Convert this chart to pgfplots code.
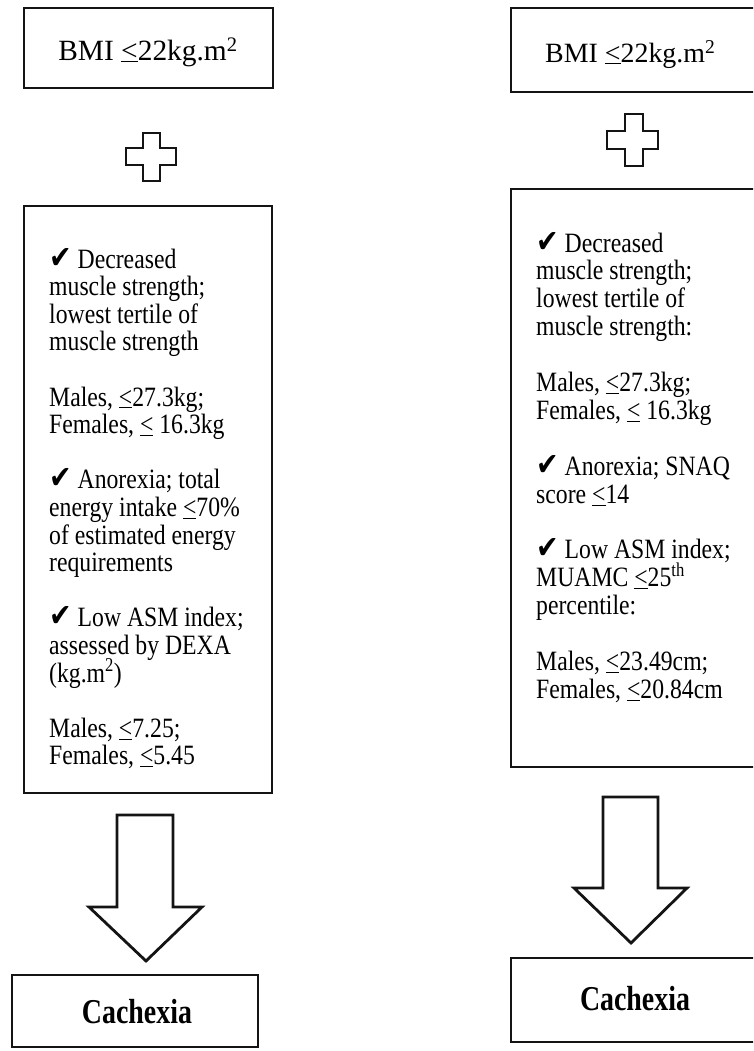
\documentclass[border=0pt]{standalone}
\usepackage{fontspec}
\setmainfont{Liberation Serif}
\newfontfamily\dejavu{DejaVu Sans}
\usepackage{graphicx}
\usepackage{pgfplots}
\pgfplotsset{compat=1.18}
\newcommand{\ulq}{\underline{<}}
\newcommand{\ck}{{\dejavu\fontsize{27}{26}\selectfont ✔}}
\newcommand{\body}{\fontsize{23.8}{27.6}\selectfont}
\newcommand{\tl}[3]{\node[anchor=base west,inner sep=0pt,font=\body] at (axis cs:#1,#2) {\scalebox{1}[1.18]{#3}};}
\pgfplotsset{shp/.style={draw=black!92,fill=none,line width=2.8bp,line join=miter,line cap=rect,mark=none}}
\begin{document}
\begin{tikzpicture}
\begin{axis}[width=753bp,height=1051bp,scale only axis,
  xmin=0,xmax=753,ymin=0,ymax=1051,y dir=reverse,hide axis,clip=true]
% left column
\addplot[shp] coordinates {(24,8) (273,8) (273,88) (24,88) (24,8)};
\addplot[shp] coordinates {(143,133) (160,133) (160,148) (176,148) (176,165) (160,165) (160,181) (143,181) (143,165) (126,165) (126,148) (143,148) (143,133)};
\addplot[shp] coordinates {(24,206) (272,206) (272,793) (24,793) (24,206)};
\addplot[shp] coordinates {(117,815) (173,815) (173,907) (202,907) (146,961) (89,907) (117,907) (117,815)};
\addplot[shp] coordinates {(12,975) (258,975) (258,1047) (12,1047) (12,975)};
% right column
\addplot[shp] coordinates {(511,8) (775,8) (775,92) (511,92) (511,8)};
\addplot[shp] coordinates {(625,114) (643,114) (643,131) (658,131) (658,149) (643,149) (643,166) (625,166) (625,149) (607,149) (607,131) (625,131) (625,114)};
\addplot[shp] coordinates {(511,189) (775,189) (775,767) (511,767) (511,189)};
\addplot[shp] coordinates {(603,797) (658,797) (658,888) (687,888) (631,943) (574,888) (603,888) (603,797)};
\addplot[shp] coordinates {(511,958) (775,958) (775,1042) (511,1042) (511,958)};
% titles
\node[anchor=base,inner sep=0pt,font=\fontsize{29.5}{34}\selectfont] at (axis cs:148,60) {BMI \ulq22kg.m\textsuperscript{2}};
\node[anchor=base west,inner sep=0pt,font=\fontsize{28}{33}\selectfont] at (axis cs:545,62) {BMI \ulq22kg.m\textsuperscript{2}};
\node[anchor=base,inner sep=0pt,font=\bfseries\fontsize{28}{33}\selectfont] at (axis cs:137,1023) {\scalebox{1}[1.25]{Cachexia}};
\node[anchor=base,inner sep=0pt,font=\bfseries\fontsize{28}{33}\selectfont] at (axis cs:635,1010) {\scalebox{1}[1.25]{Cachexia}};
% left body
\tl{49}{268}{\ck\ Decreased}
\tl{49}{295.6}{muscle strength;}
\tl{49}{323.2}{lowest tertile of}
\tl{49}{350.8}{muscle strength}
\tl{49}{406}{Males, \ulq27.3kg;}
\tl{49}{433.6}{Females, \ulq\ 16.3kg}
\tl{49}{488.8}{\ck\ Anorexia; total}
\tl{49}{516.4}{energy intake \ulq70\%}
\tl{49}{544}{of estimated energy}
\tl{49}{571.6}{requirements}
\tl{49}{626.8}{\ck\ Low ASM index;}
\tl{49}{654.4}{assessed by DEXA}
\tl{49}{682}{(kg.m\textsuperscript{2})}
\tl{49}{737.2}{Males, \ulq7.25;}
\tl{49}{764.8}{Females, \ulq5.45}
% right body
\tl{536}{252}{\ck\ Decreased}
\tl{536}{279.9}{muscle strength;}
\tl{536}{307.8}{lowest tertile of}
\tl{536}{335.7}{muscle strength:}
\tl{536}{391.5}{Males, \ulq27.3kg;}
\tl{536}{419.4}{Females, \ulq\ 16.3kg}
\tl{536}{475.2}{\ck\ Anorexia; SNAQ}
\tl{536}{503.1}{score \ulq14}
\tl{536}{558.9}{\ck\ Low ASM index;}
\tl{536}{586.8}{MUAMC \ulq25\textsuperscript{th}}
\tl{536}{614.7}{percentile:}
\tl{536}{670.5}{Males, \ulq23.49cm;}
\tl{536}{698.4}{Females, \ulq20.84cm}
\end{axis}
\path (current axis.south west) rectangle (current axis.north east);
\end{tikzpicture}
\end{document}
